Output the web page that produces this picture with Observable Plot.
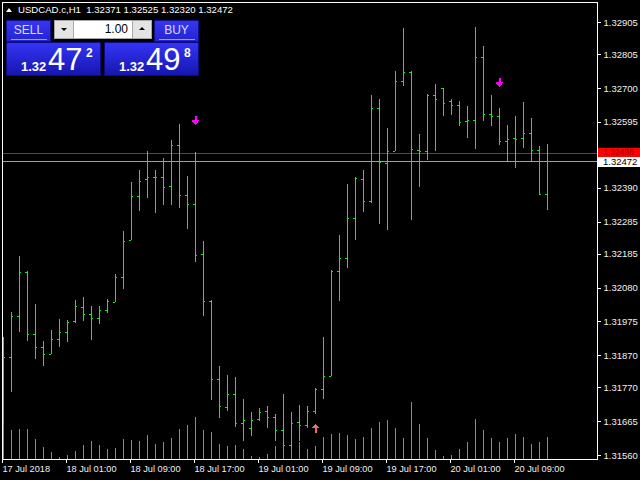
<!DOCTYPE html>
<html><head><meta charset="utf-8">
<script src="https://cdn.jsdelivr.net/npm/d3@7"></script>
<script src="https://cdn.jsdelivr.net/npm/@observablehq/plot@0.6"></script>
<style>
html,body{margin:0;padding:0;background:#000;}
#wrap{position:relative;width:640px;height:480px;background:#000;overflow:hidden;font-family:'Liberation Sans',Arial,sans-serif;}
#wrap svg{position:absolute;left:0;top:0;shape-rendering:crispEdges;}
#wrap svg text{shape-rendering:auto;}
.box{position:absolute;box-sizing:border-box;overflow:hidden;}
.num{position:absolute;line-height:1;white-space:nowrap;}
</style></head><body><div id="wrap"></div><script>
// ---- data (USDCAD.c, H1) ----
const symbolName = "USDCAD.c,H1";
const headerValues = ["1.32371", "1.32525", "1.32320", "1.32472"];
const startTime = "2018-07-17T17:00:00Z";
const tickLabels = ["17 Jul 2018", "18 Jul 01:00", "18 Jul 09:00", "18 Jul 17:00", "19 Jul 01:00", "19 Jul 09:00", "19 Jul 17:00", "20 Jul 01:00", "20 Jul 09:00"];
const tickBars = [0, 8, 16, 24, 32, 40, 48, 56, 64];
const priceTicks = [1.32905, 1.32805, 1.32700, 1.32595, 1.32390, 1.32285, 1.32185, 1.32080, 1.31975, 1.31870, 1.31770, 1.31665, 1.31560];
const openV = [1.31890, 1.31863, 1.31991, 1.32128, 1.31935, 1.31895, 1.31873, 1.31919, 1.31941, 1.31975, 1.32019, 1.31997, 1.31985, 1.32010, 1.32034, 1.32112, 1.32227, 1.32364, 1.32416, 1.32423, 1.32423, 1.32395, 1.32523, 1.32367, 1.32339, 1.32183, 1.32037, 1.31795, 1.31708, 1.31749, 1.31658, 1.31643, 1.31671, 1.31696, 1.31677, 1.31637, 1.31590, 1.31663, 1.31652, 1.31696, 1.31764, 1.31804, 1.32131, 1.32171, 1.32295, 1.32416, 1.32348, 1.32637, 1.32466, 1.32503, 1.32721, 1.32749, 1.32507, 1.32503, 1.32677, 1.32699, 1.32659, 1.32646, 1.32597, 1.32600, 1.32795, 1.32618, 1.32612, 1.32534, 1.32544, 1.32544, 1.32559, 1.32507, 1.32371];
const highV = [1.31927, 1.32004, 1.32178, 1.32130, 1.32029, 1.31914, 1.31948, 1.31982, 1.31978, 1.32041, 1.32051, 1.32023, 1.32023, 1.32044, 1.32122, 1.32256, 1.32408, 1.32445, 1.32504, 1.32445, 1.32483, 1.32539, 1.32588, 1.32427, 1.32501, 1.32225, 1.32041, 1.31836, 1.31809, 1.31802, 1.31734, 1.31694, 1.31706, 1.31712, 1.31687, 1.31750, 1.31693, 1.31715, 1.31712, 1.31767, 1.31927, 1.32134, 1.32243, 1.32402, 1.32424, 1.32445, 1.32678, 1.32666, 1.32576, 1.32753, 1.32886, 1.32753, 1.32557, 1.32680, 1.32712, 1.32699, 1.32665, 1.32660, 1.32643, 1.32890, 1.32830, 1.32678, 1.32638, 1.32585, 1.32613, 1.32657, 1.32607, 1.32521, 1.32525];
const lowV = [1.31653, 1.31757, 1.31943, 1.31914, 1.31859, 1.31837, 1.31873, 1.31896, 1.31912, 1.31971, 1.31977, 1.31917, 1.31968, 1.32002, 1.32034, 1.32077, 1.32227, 1.32319, 1.32359, 1.32313, 1.32338, 1.32338, 1.32328, 1.32263, 1.32160, 1.31993, 1.31732, 1.31676, 1.31698, 1.31648, 1.31604, 1.31620, 1.31665, 1.31645, 1.31604, 1.31576, 1.31580, 1.31604, 1.31643, 1.31688, 1.31735, 1.31804, 1.32039, 1.32142, 1.32229, 1.32316, 1.32344, 1.32279, 1.32260, 1.32503, 1.32707, 1.32291, 1.32393, 1.32477, 1.32505, 1.32614, 1.32617, 1.32583, 1.32546, 1.32511, 1.32598, 1.32583, 1.32524, 1.32472, 1.32452, 1.32515, 1.32472, 1.32370, 1.32320];
const closeV = [1.31863, 1.31991, 1.32128, 1.31935, 1.31895, 1.31873, 1.31919, 1.31941, 1.31972, 1.32023, 1.31997, 1.31985, 1.32010, 1.32037, 1.32112, 1.32224, 1.32364, 1.32411, 1.32423, 1.32423, 1.32392, 1.32523, 1.32367, 1.32339, 1.32180, 1.32037, 1.31795, 1.31711, 1.31749, 1.31658, 1.31668, 1.31668, 1.31693, 1.31677, 1.31637, 1.31590, 1.31658, 1.31652, 1.31696, 1.31764, 1.31804, 1.32132, 1.32171, 1.32295, 1.32420, 1.32348, 1.32637, 1.32469, 1.32503, 1.32721, 1.32749, 1.32510, 1.32503, 1.32677, 1.32665, 1.32652, 1.32646, 1.32593, 1.32600, 1.32795, 1.32618, 1.32612, 1.32534, 1.32541, 1.32541, 1.32559, 1.32507, 1.32370, 1.32472];
const volumeV = [2040, 1740, 1800, 1800, 1200, 720, 420, 120, 240, 480, 840, 1080, 840, 600, 660, 1200, 1140, 1080, 1440, 900, 1020, 1260, 1800, 2040, 2520, 1740, 1620, 900, 780, 840, 600, 180, 120, 300, 780, 660, 840, 1020, 600, 780, 1320, 1500, 1560, 1440, 1200, 1320, 1860, 2220, 2340, 1860, 1260, 3420, 2100, 1260, 540, 180, 240, 600, 1020, 2400, 1740, 1260, 1020, 1260, 1500, 1320, 900, 1020, 1320];
const askPrice = 1.32498;
const bidPrice = 1.32472;
const sellSignalBars = [24, 62];
const sellSignalPrices = [1.32601, 1.32719];
const buySignalBars = [39];
const buySignalPrices = [1.31644];

// ---- build ----
const t0 = new Date(startTime).getTime();
const times = openV.map((_, i) => new Date(t0 + i * 3600e3));
const bars = times.map((t, i) => ({t, open: openV[i], high: highV[i], low: lowV[i], close: closeV[i], volume: volumeV[i]}));
const tickTimes = tickBars.map(i => times[i]);
const labelOf = new Map(tickTimes.map((t, i) => [+t, tickLabels[i]]));
const sells = sellSignalBars.map((b, i) => ({t: times[b], p: sellSignalPrices[i]}));
const buys = buySignalBars.map((b, i) => ({t: times[b], p: buySignalPrices[i]}));

const FONT = "'Liberation Sans',Arial,sans-serif";
const BAR = "#22e622";
const VOL = "#32c832";
const xScale = {type: "band", domain: times, range: [-1, 551], padding: 0};

const arrowDown = {draw(c) { c.moveTo(-1, -4.5); c.lineTo(1, -4.5); c.lineTo(1, 0); c.lineTo(4, 0); c.lineTo(0, 4.5); c.lineTo(-4, 0); c.lineTo(-1, 0); c.closePath(); }};
const arrowUp = {draw(c) { c.moveTo(-1, 4.5); c.lineTo(1, 4.5); c.lineTo(1, 0); c.lineTo(4, 0); c.lineTo(0, -4.5); c.lineTo(-4, 0); c.lineTo(-1, 0); c.closePath(); }};

const volPlot = Plot.plot({
  width: 640, height: 480, margin: 0,
  style: {background: "transparent"},
  x: {...xScale, axis: null},
  y: {domain: [0, 3420], range: [459, 402], axis: null},
  marks: [Plot.ruleX(bars, {x: "t", y1: 0, y2: "volume", stroke: VOL})]
});

const pricePlot = Plot.plot({
  width: 640, height: 480,
  marginLeft: 2, marginTop: 2, marginRight: 43, marginBottom: 21,
  style: {background: "transparent", color: "#f0f0f0", fontFamily: FONT, fontSize: "9px"},
  x: {...xScale, label: null},
  y: {domain: [1.31560, 1.32905], range: [455, 22], label: null},
  marks: [
    Plot.ruleY([askPrice], {stroke: "#ff0000"}),
    Plot.ruleY([bidPrice], {stroke: "#a0a0a0"}),
    Plot.ruleX(bars, {x: "t", y1: "low", y2: "high", stroke: BAR}),
    Plot.tickY(bars, {x: "t", y: "open", stroke: BAR, insetLeft: 2, insetRight: 4, clip: true}),
    Plot.tickY(bars, {x: "t", y: "close", stroke: BAR, insetLeft: 4, insetRight: 2}),
    Plot.dot(sells, {x: "t", y: "p", symbol: arrowDown, fill: "#ff00ff", stroke: null}),
    Plot.dot(buys, {x: "t", y: "p", symbol: arrowUp, fill: "#f46a5a", stroke: null}),
    Plot.frame({stroke: "#ffffff"}),
    Plot.axisY(priceTicks, {anchor: "right", label: null, tickSize: 3, tickPadding: 3, tickFormat: d => d.toFixed(5), stroke: "#fff", fontSize: 9.5}),
    Plot.axisX({ticks: tickTimes, label: null, tickFormat: d => labelOf.get(+d), textAnchor: "start", tickSize: 4, tickPadding: 2, dx: -1, stroke: "#fff", fontSize: 9.2})
  ]
});

const wrap = document.getElementById("wrap");
wrap.appendChild(volPlot);
wrap.appendChild(pricePlot);

function box(css, html) {
  const d = document.createElement("div");
  d.className = "box";
  d.style.cssText = css;
  if (html != null) d.innerHTML = html;
  wrap.appendChild(d);
  return d;
}
const ys = pricePlot.scale("y");
// bid / ask labels on the price scale
const askTop = Math.round(ys.apply(askPrice)) - 5;
const bidTop = Math.round(ys.apply(bidPrice)) - 4;
box(`left:598px;top:${askTop}px;width:42px;height:${bidTop - askTop}px;background:#ff0000;`,
  `<span class="num" style="left:5px;top:0;color:#a00000;font:8.5px ${FONT};line-height:9px;">${askPrice.toFixed(5)}</span>`);
box(`left:598px;top:${bidTop}px;width:42px;height:10px;background:#ffffff;color:#000;font:9.5px ${FONT};line-height:10px;padding-left:5px;`, bidPrice.toFixed(5));

// header
box(`left:6px;top:8px;width:0;height:0;overflow:visible;border-left:3px solid transparent;border-right:3px solid transparent;border-bottom:4px solid #fff;`);
box(`left:18px;top:4px;color:#fff;font:9.6px ${FONT};white-space:pre;`, symbolName + "  " + headerValues.join(" "));

// one-click trading panel
const btnBg = "background:linear-gradient(#3636f2,#2424d0);border:1px solid #10108a;";
box(`left:6px;top:20px;width:45px;height:22px;${btnBg}color:#dcdcff;font:12px ${FONT};text-align:center;line-height:19px;`, "SELL<div style='position:absolute;left:4px;right:3px;bottom:1px;height:1px;background:#9a9aff'></div>");
box(`left:154px;top:20px;width:45px;height:22px;${btnBg}color:#dcdcff;font:12px ${FONT};text-align:center;line-height:19px;`, "BUY<div style='position:absolute;left:4px;right:3px;bottom:1px;height:1px;background:#9a9aff'></div>");
box(`left:54px;top:20px;width:20px;height:19px;background:#e4e4e4;border:1px solid #a8a8a8;`, "<div style='position:absolute;left:6px;top:7px;width:0;height:0;border-left:3px solid transparent;border-right:3px solid transparent;border-top:3px solid #000'></div>");
box(`left:74px;top:20px;width:58px;height:19px;background:#fff;border-top:1px solid #a8a8a8;border-bottom:1px solid #a8a8a8;color:#000;font:12px ${FONT};text-align:right;padding-right:4px;line-height:17px;`, "1.00");
box(`left:132px;top:20px;width:20px;height:19px;background:#e4e4e4;border:1px solid #a8a8a8;`, "<div style='position:absolute;left:6px;top:6px;width:0;height:0;border-left:3px solid transparent;border-right:3px solid transparent;border-bottom:3px solid #000'></div>");
const priceBg = "background:linear-gradient(#3434f4,#1616b0);border:1px solid #0c0c80;overflow:visible;";
function priceBox(left, big, sup) {
  const b = box(`left:${left}px;top:42px;width:95px;height:34px;${priceBg}color:#fff;`);
  b.innerHTML = `<span class="num" style="left:14px;top:16px;font:bold 13px ${FONT};">1.32</span>` +
    `<span class="num" style="left:41px;top:2px;font:31px ${FONT};line-height:30px;">${big}</span>` +
    `<span class="num" style="left:79px;top:3px;font:bold 12px ${FONT};">${sup}</span>`;
}
priceBox(6, "47", "2");
priceBox(104, "49", "8");
</script></body></html>
